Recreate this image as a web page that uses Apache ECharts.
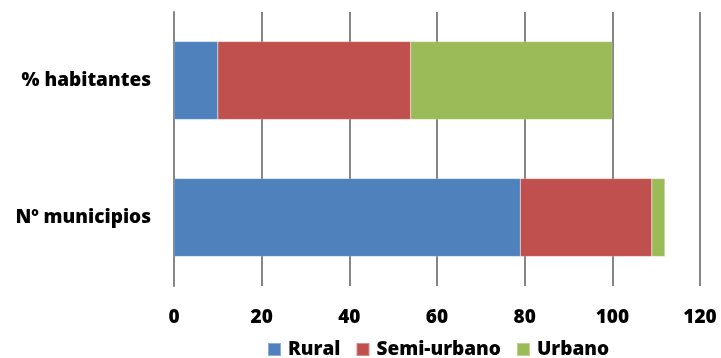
<!doctype html>
<html>
<head>
  <meta charset="utf-8" />
  <script src="https://cdn.jsdelivr.net/npm/echarts@6/dist/echarts.min.js"></script>
  <style>
    body { margin: 0; background: #ffffff; }
    #chart { width: 721px; height: 358px; }
  </style>
</head>
<body>
  <div id="chart"></div>
  <script>
    // categories listed bottom-to-top, as the y axis draws them
    const categories = ["Nº municipios", "% habitantes"];
    const rural = [79, 10];
    const semiUrbano = [30, 44];
    const urbano = [3, 46];
    const xTicks = [0, 20, 40, 60, 80, 100, 120];

    const font = "'Open Sans', sans-serif";
    const chart = echarts.init(document.getElementById("chart"), null, { renderer: "canvas" });

    const bar = (name, data, color) => ({
      name,
      type: "bar",
      stack: "total",
      barCategoryGap: "43%",
      data,
      itemStyle: { color, borderColor: "rgba(255,255,255,0.35)", borderWidth: 0.5 }
    });

    chart.setOption({
      animation: false,
      backgroundColor: "#ffffff",
      textStyle: { fontFamily: font },
      grid: { left: 174, right: 21, top: 12, bottom: 72 },
      legend: {
        bottom: -6,
        left: 262,
        itemWidth: 13,
        itemHeight: 13,
        itemGap: 15,
        icon: "rect",
        textStyle: { fontSize: 19, fontWeight: 800, color: "#000", fontFamily: font, padding: [0, 0, 0, 2] },
        data: ["Rural", "Semi-urbano", "Urbano"]
      },
      xAxis: {
        type: "value",
        min: xTicks[0],
        max: xTicks[xTicks.length - 1],
        interval: 20,
        axisLine: { show: false },
        axisTick: { show: false },
        splitLine: { lineStyle: { color: "#868686", width: 2 } },
        axisLabel: { fontSize: 19, fontWeight: 800, color: "#000", margin: 22, fontFamily: font }
      },
      yAxis: {
        type: "category",
        data: categories,
        axisLine: { show: true, lineStyle: { color: "#868686", width: 2 } },
        axisTick: { show: false },
        axisLabel: { fontSize: 19, fontWeight: 800, color: "#000", margin: 23, fontFamily: font }
      },
      series: [
        bar("Rural", rural, "#4F81BD"),
        bar("Semi-urbano", semiUrbano, "#C0504D"),
        bar("Urbano", urbano, "#9BBB59")
      ]
    });
  </script>
</body>
</html>
